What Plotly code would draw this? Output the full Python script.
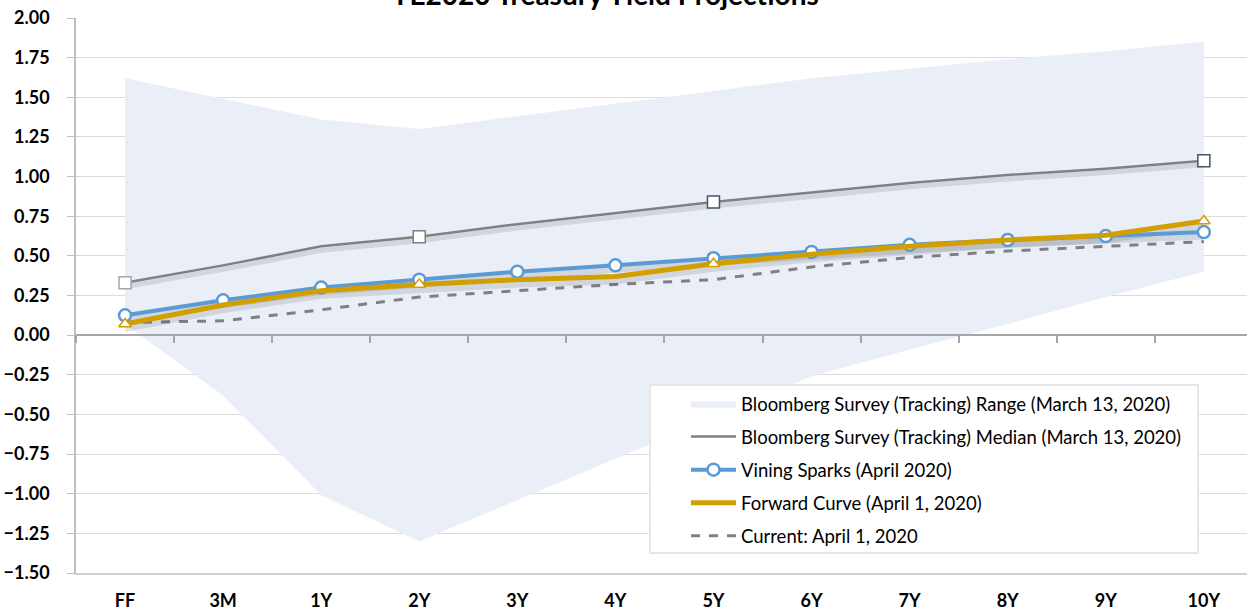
import plotly.graph_objects as go

categories = ["FF", "3M", "1Y", "2Y", "3Y", "4Y", "5Y", "6Y", "7Y", "8Y", "9Y", "10Y"]
range_low = [0.07, -0.38, -1.01, -1.30, -1.04, -0.78, -0.52, -0.26, -0.09, 0.07, 0.24, 0.40]
range_high = [1.62, 1.49, 1.36, 1.30, 1.38, 1.46, 1.54, 1.62, 1.68, 1.74, 1.79, 1.85]
median = [0.33, 0.44, 0.56, 0.62, 0.70, 0.77, 0.84, 0.90, 0.96, 1.01, 1.05, 1.10]
vining = [0.125, 0.22, 0.30, 0.35, 0.40, 0.44, 0.485, 0.525, 0.57, 0.60, 0.625, 0.65]
forward = [0.07, 0.19, 0.28, 0.32, 0.35, 0.37, 0.45, 0.51, 0.56, 0.60, 0.63, 0.72]
current = [0.08, 0.09, 0.16, 0.24, 0.28, 0.32, 0.35, 0.43, 0.49, 0.53, 0.56, 0.59]
marker_idx = [0, 3, 6, 11]
y_ticks = [2.0, 1.75, 1.5, 1.25, 1.0, 0.75, 0.5, 0.25, 0.0, -0.25, -0.5, -0.75, -1.0, -1.25, -1.5]

title_text = "YE2020 Treasury Yield Projections"
names = {
    "range": "Bloomberg Survey (Tracking) Range (March 13, 2020)",
    "median": "Bloomberg Survey (Tracking) Median (March 13, 2020)",
    "vining": "Vining Sparks (April 2020)",
    "forward": "Forward Curve (April 1, 2020)",
    "current": "Current: April 1, 2020",
}

FONT = "Lato, 'Open Sans', sans-serif"
BAND = "rgb(233,238,247)"
GRAY = "#808080"
BLUE = "#5B9BD5"
GOLD = "#D19F00"
SHADOW = "rgba(0,0,0,0.10)"

W, H = 1247, 614
L, R, T, B = 76, 0, 18, 41
PW, PH = W - L - R, H - T - B


def px_x(px):
    return (px - L) / PW


def px_y(py):
    return (H - B - py) / PH


fig = go.Figure()

# Range band (main subplot)
fig.add_trace(go.Scatter(x=categories, y=range_low, mode="lines", line=dict(width=0, color=BAND),
                         showlegend=False, hoverinfo="skip", legendgroup="g1"))
fig.add_trace(go.Scatter(x=categories, y=range_high, mode="lines", line=dict(width=0, color=BAND),
                         fill="tonexty", fillcolor=BAND, name=names["range"], legendgroup="g1",
                         legendrank=1))

# Current (dashed), main subplot
fig.add_trace(go.Scatter(x=categories, y=current, mode="lines",
                         line=dict(width=3, color=GRAY, dash="dash"),
                         name=names["current"], legendgroup="g5", legendrank=5))

# Shadows on offset overlay axis
for series, w in ((median, 5), (vining, 7), (forward, 8)):
    fig.add_trace(go.Scatter(x=categories, y=series, mode="lines", xaxis="x2", yaxis="y2",
                             line=dict(width=w, color=SHADOW), showlegend=False, hoverinfo="skip"))

# Median
fig.add_trace(go.Scatter(x=categories, y=median, mode="lines", xaxis="x2", yaxis="y3",
                         line=dict(width=2.5, color=GRAY),
                         name=names["median"], legendgroup="g2", legendrank=2))

# Vining Sparks
fig.add_trace(go.Scatter(x=categories, y=vining, mode="lines+markers", xaxis="x2", yaxis="y3",
                         line=dict(width=4, color=BLUE),
                         marker=dict(symbol="circle", size=12, color="white", line=dict(width=2.5, color=BLUE)),
                         name=names["vining"], legendgroup="g3", legendrank=3))

# Forward curve
fig.add_trace(go.Scatter(x=categories, y=forward, mode="lines", xaxis="x2", yaxis="y3",
                         line=dict(width=5, color=GOLD),
                         name=names["forward"], legendgroup="g4", legendrank=4))

# Marker overlays
fig.add_trace(go.Scatter(x=[categories[i] for i in marker_idx], y=[median[i] for i in marker_idx],
                         mode="markers", showlegend=False, legendgroup="g2", xaxis="x2", yaxis="y3",
                         marker=dict(symbol="square", size=12, color="white",
                                     line=dict(width=1.5, color=["#a6a6a6", "#7f7f7f", "#44546A", "#44546A"]))))
fig.add_trace(go.Scatter(x=[categories[i] for i in marker_idx], y=[forward[i] for i in marker_idx],
                         mode="markers", showlegend=False, legendgroup="g4", xaxis="x2", yaxis="y3",
                         marker=dict(symbol="triangle-up", size=11, color="white",
                                     line=dict(width=1.5, color=GOLD))))

xr = [-0.5, 11.44]
yr = [-1.5, 2.0]
off = 0.025

fig.update_layout(
    width=W, height=H,
    margin=dict(l=L, r=R, t=T, b=B),
    paper_bgcolor="white", plot_bgcolor="white",
    font=dict(family=FONT, color="black"),
    title=dict(text="<b>" + title_text + "</b>", x=605 / W, xanchor="center",
               y=1 - 5 / H, yref="container", yanchor="bottom",
               font=dict(size=28, family=FONT, color="black")),
    xaxis=dict(type="category", categoryorder="array", categoryarray=categories, range=xr,
               showgrid=False, showline=True, linecolor="#d0d0d0", linewidth=1.5,
               ticks="", tickfont=dict(size=18, family=FONT, weight="bold"),
               ticklabelstandoff=11, zeroline=False),
    xaxis2=dict(type="category", categoryorder="array", categoryarray=categories, range=xr,
                overlaying="x", anchor="free", position=1.5 / 3.5,
                showgrid=False, showline=True, linecolor="#a6a6a6", linewidth=1.5,
                ticks="outside", tickson="boundaries", ticklen=7, tickcolor="#a6a6a6", tickwidth=1.5,
                showticklabels=False, zeroline=False),
    yaxis=dict(range=yr, tickvals=y_ticks, tickformat=".2f", showgrid=True, gridcolor="#dcdcdc",
               gridwidth=1.2, zeroline=False, showline=True, linecolor="#bfbfbf", linewidth=1.5,
               ticks="outside", ticklen=7, tickcolor="#bfbfbf",
               tickfont=dict(size=18, family=FONT, weight="bold"), ticklabelstandoff=14),
    yaxis2=dict(range=[yr[0] + off, yr[1] + off], overlaying="y", visible=False),
    yaxis3=dict(range=yr, overlaying="y", visible=False),
    legend=dict(x=px_x(686), y=px_y(385), xanchor="left", yanchor="top",
                bgcolor="rgba(0,0,0,0)", borderwidth=0,
                font=dict(size=18.5, family=FONT, color="black"),
                tracegroupgap=6, itemwidth=45, traceorder="grouped"),
    shapes=[dict(type="rect", xref="paper", yref="paper", layer="above",
                 x0=px_x(650), x1=px_x(1198), y0=px_y(553), y1=px_y(385),
                 fillcolor="white", line=dict(color="#e6e6e6", width=2))],
    showlegend=True,
)

fig.write_html("out.html", config={"displayModeBar": False},
               post_script="document.body.style.margin='0px';")
